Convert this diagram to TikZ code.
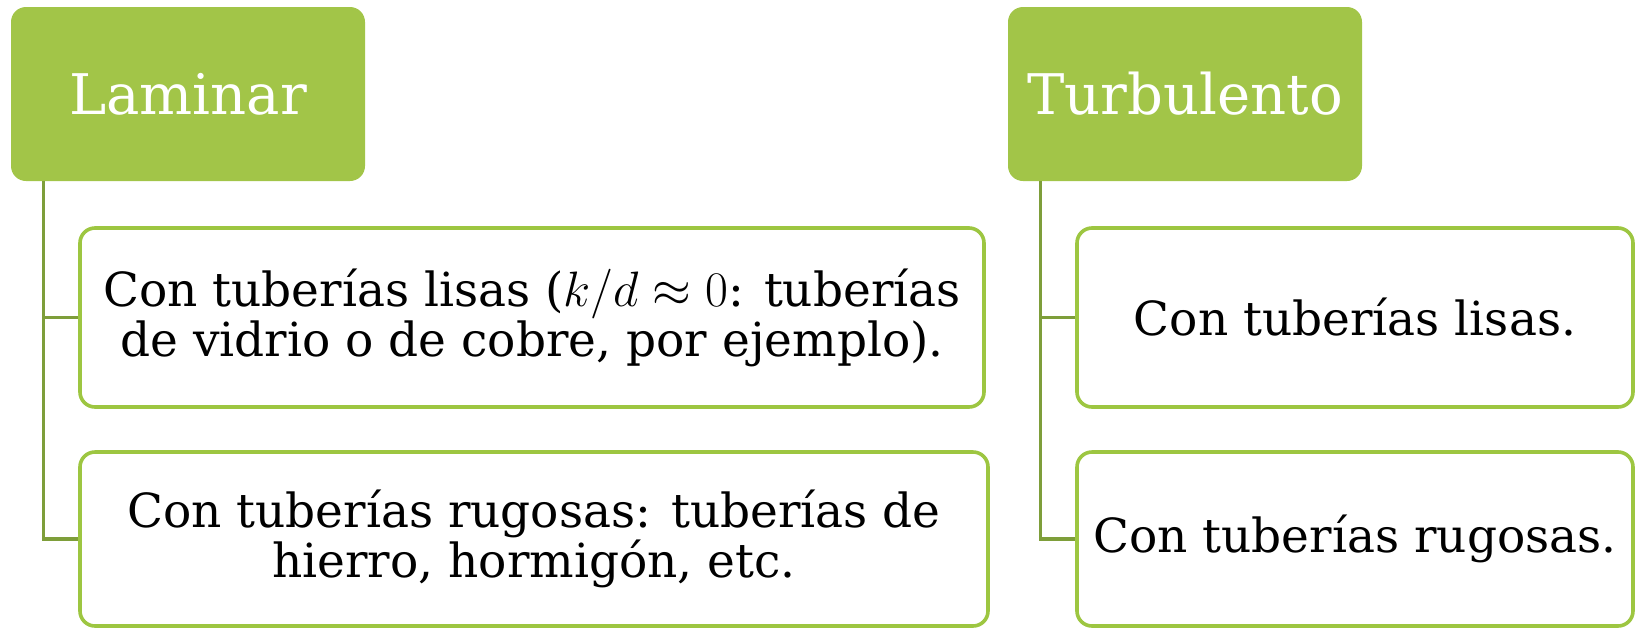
\documentclass[tikz,border=0pt]{standalone}
\usepackage{fontspec}
\setmainfont{DejaVu Serif}
\definecolor{hdr}{HTML}{A2C548}
\definecolor{brd}{HTML}{9DC641}
\definecolor{connc}{HTML}{7E9E3A}
\begin{document}
\begin{tikzpicture}[x=0.5pt,y=-0.5pt,
  hdrbox/.style={fill=hdr, rounded corners=7.5pt, minimum width=177pt, minimum height=87pt, text=white, font=\fontsize{28}{32}\selectfont, inner sep=0pt},
  itembox/.style={draw=brd, line width=1.8pt, rounded corners=7.5pt, fill=white, align=center, font=\fontsize{23.5}{25}\selectfont, inner sep=0pt},
  conn/.style={draw=connc, line width=1.8pt}]
\useasboundingbox (0,0) rectangle (1635,628);
\node[hdrbox] (lam) at (188,94) {Laminar};
\node[hdrbox] (tur) at (1185,94) {Turbulento};
\node[itembox, minimum width=452pt, minimum height=89.5pt] (l1) at (532,317.5) {Con tuberías lisas (\(k/d \approx 0\): tuberías\\de vidrio o de cobre, por ejemplo).};
\node[itembox, minimum width=454pt, minimum height=87pt] (l2) at (534,539) {Con tuberías rugosas: tuberías de\\hierro, hormigón, etc.};
\node[itembox, minimum width=278pt, minimum height=89.5pt] (r1) at (1355,317.5) {Con tuberías lisas.};
\node[itembox, minimum width=278pt, minimum height=87pt] (r2) at (1355,539) {Con tuberías rugosas.};
\coordinate (la) at ([xshift=16.5pt]lam.south west);
\coordinate (ta) at ([xshift=16.5pt]tur.south west);
\draw[conn] (la) |- (l2.west);
\draw[conn] (la |- l1.west) -- (l1.west);
\draw[conn] (ta) |- (r2.west);
\draw[conn] (ta |- r1.west) -- (r1.west);
\end{tikzpicture}
\end{document}
